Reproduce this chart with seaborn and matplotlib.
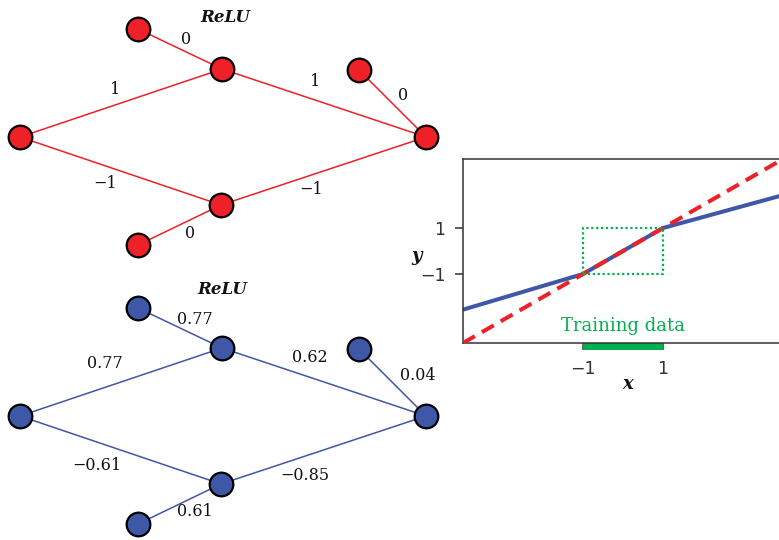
import pandas as pd
import matplotlib
matplotlib.use("Agg")
import matplotlib.pyplot as plt
import matplotlib.transforms as mtransforms
from matplotlib.patches import Rectangle
import seaborn as sns

# --- network diagrams (pixel layout, y down) ---
node_names = ["in", "b1", "h1", "h2", "b2", "bo", "out"]
node_x = [20, 138, 222, 221, 138, 359, 426]
node_dy = [0, -108, -68, 68, 108, -67, 0]
edges = [("in", "h1"), ("in", "h2"), ("b1", "h1"), ("b2", "h2"),
         ("h1", "out"), ("h2", "out"), ("bo", "out")]

red_weights = ["1", "\u22121", "0", "0", "1", "\u22121", "0"]
blue_weights = ["0.77", "\u22120.61", "0.77", "0.61", "0.62", "\u22120.85", "0.04"]

red_center = 137
blue_center = 416
red_label_xy = [(115, 89), (105, 184), (186, 40), (190, 234), (315, 82), (311, 189), (403, 95)]
blue_label_xy = [(105, 363), (97, 465), (195, 319), (195, 512), (310, 358), (305, 475), (418, 375)]
red_relu_xy = (225, 17)
blue_relu_xy = (222, 289)

# --- function plot ---
curve_x = [-4, -1, 1, 4]
target_y = [-4, -1, 1, 4]
relu_y = [-2.55, -1, 1, 2.43]
train_lo, train_hi = -1, 1

RED = "#ee2028"
BLUE = "#3f57a7"
GREEN = "#00b050"
GRAY = "#333333"

sns.set_style("white")
plt.rcParams["font.family"] = ["DejaVu Serif"]

fig = plt.figure(figsize=(7.79, 5.40), dpi=100)
net_ax = fig.add_axes([0, 0, 1, 1])


def draw_net(ax, center, color, weights, label_xy, relu_xy):
    pos = {n: (x, center + dy) for n, x, dy in zip(node_names, node_x, node_dy)}
    rows = []
    for i, (a, b) in enumerate(edges):
        rows.append({"x": pos[a][0], "y": pos[a][1], "edge": i})
        rows.append({"x": pos[b][0], "y": pos[b][1], "edge": i})
    edge_df = pd.DataFrame(rows)
    sns.lineplot(data=edge_df, x="x", y="y", units="edge", estimator=None,
                 sort=False, color=color, lw=1.1, ax=ax, zorder=1)
    nodes = pd.DataFrame({"x": [pos[n][0] for n in node_names],
                          "y": [pos[n][1] for n in node_names]})
    sns.scatterplot(data=nodes, x="x", y="y", s=290, color=color,
                    edgecolor="black", linewidth=1.6, ax=ax, zorder=3)
    for w, (tx, ty) in zip(weights, label_xy):
        ax.text(tx, ty, w, ha="center", va="center", fontsize=11.5, color="#111111")
    ax.text(relu_xy[0], relu_xy[1], "ReLU", ha="center", va="center",
            fontsize=12, fontweight="bold", fontstyle="italic", color="#111111")


draw_net(net_ax, red_center, RED, red_weights, red_label_xy, red_relu_xy)
draw_net(net_ax, blue_center, BLUE, blue_weights, blue_label_xy, blue_relu_xy)
net_ax.set_xlim(0, 779)
net_ax.set_ylim(540, 0)
net_ax.axis("off")

# --- right plot ---
ax = fig.add_axes([463 / 779, (540 - 343) / 540, 320 / 779, 184 / 540])
sns.lineplot(x=curve_x, y=relu_y, color=BLUE, lw=2.9, ax=ax, zorder=2)
sns.lineplot(x=curve_x, y=target_y, color=RED, lw=2.9, ax=ax, zorder=3,
             linestyle=(0, (3.4, 2.0)))
ax.add_patch(Rectangle((train_lo, -1), train_hi - train_lo, 2, fill=False,
                       edgecolor=GREEN, lw=1.6, linestyle=(0, (1, 1.2)), zorder=4))
ax.text(0, -3.24, "Training data", ha="center", va="center", fontsize=13, color=GREEN)

trans = mtransforms.blended_transform_factory(ax.transData, ax.transAxes)
ax.add_patch(Rectangle((train_lo, -0.04), train_hi - train_lo, 0.04,
                       transform=trans, facecolor=GREEN, edgecolor="none",
                       clip_on=False, zorder=1))

ax.set_xlim(-4, 4)
ax.set_ylim(-4, 4)
ax.set_xticks([-1, 1], ["\u22121", "1"])
ax.set_yticks([-1, 1], ["\u22121", "1"])
ax.tick_params(axis="x", bottom=True, direction="out", length=5, width=1.1,
               color=GRAY, pad=7, labelsize=12.5, labelcolor="#333333")
ax.tick_params(axis="y", left=True, direction="out", length=5.8, width=1.1,
               color=GRAY, pad=7, labelsize=12.5, labelcolor="#333333")
for lab in ax.get_xticklabels() + ax.get_yticklabels():
    lab.set_fontfamily("DejaVu Sans")
for side in ["top", "left", "bottom", "right"]:
    ax.spines[side].set_color(GRAY)
    ax.spines[side].set_linewidth(1.1)
ax.set_xlabel("")
ax.set_ylabel("")
ax.text(0.5156, -0.223, "x", transform=ax.transAxes, ha="center", va="center",
        fontsize=13, fontweight="bold", fontstyle="italic", color="#111111")
ax.text(-0.144, 0.473, "y", transform=ax.transAxes, ha="center", va="center",
        fontsize=13, fontweight="bold", fontstyle="italic", color="#111111")

fig.savefig("out.png", dpi=100)
